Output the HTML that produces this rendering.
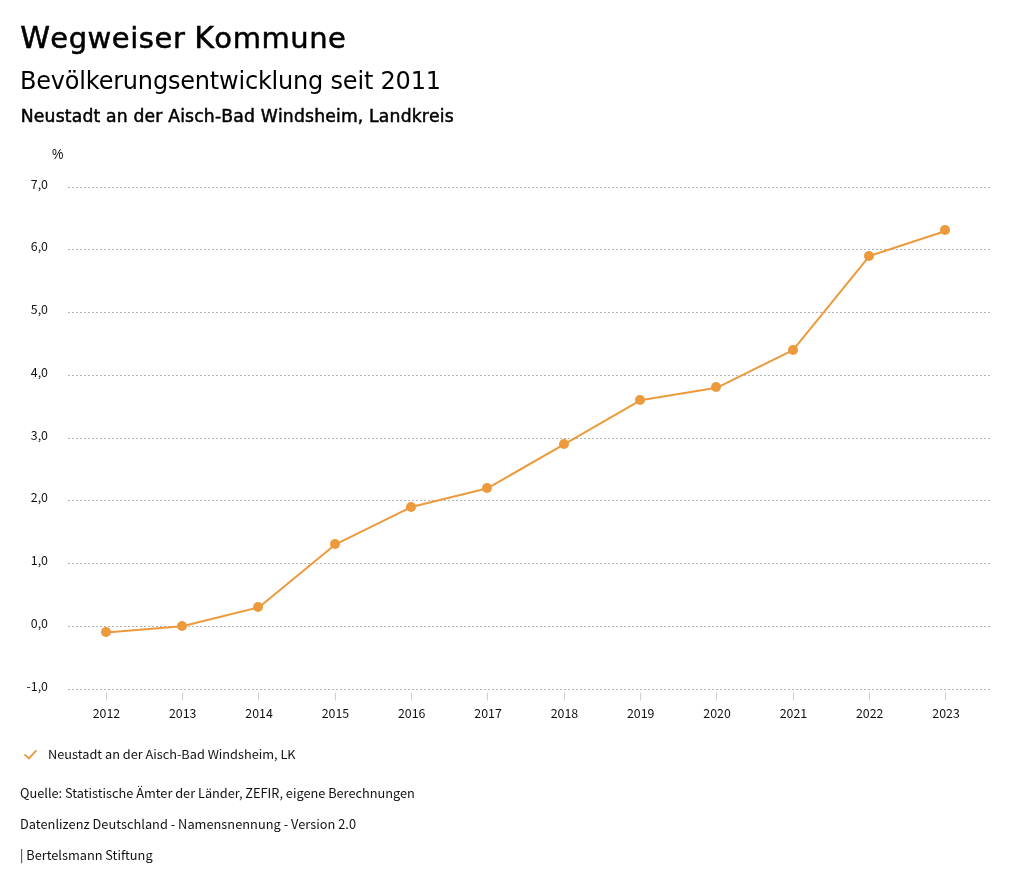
<!DOCTYPE html>
<html lang="de">
<head>
<meta charset="utf-8">
<title>Wegweiser Kommune</title>
<style>
html,body{margin:0;padding:0;background:#fff;}
body{width:1024px;height:888px;position:relative;overflow:hidden;font-family:"Liberation Sans","Noto Sans CJK JP",sans-serif;color:#000;}
.t{position:absolute;white-space:nowrap;line-height:1;margin:0;font-weight:normal;}
.dj{font-family:"DejaVu Sans","Liberation Sans",sans-serif;}
.ss{font-family:"Noto Sans CJK JP","Noto Sans CJK SC","Liberation Sans",sans-serif;}
#h1{left:20.2px;top:22.7px;font-size:29px;letter-spacing:0.55px;word-spacing:-0.8px;-webkit-text-stroke:0.5px #000;font-kerning:none;}
#h1 span{font-size:30.2px;letter-spacing:0.2px;}
#h2{left:20px;top:69.3px;font-size:24px;letter-spacing:-0.2px;}
#h3{left:20.8px;top:108.4px;font-size:17.2px;letter-spacing:0.178px;-webkit-text-stroke:0.5px #000;font-kerning:none;}
svg{position:absolute;left:0;top:0;}
svg text{font-family:"Noto Sans CJK JP","Noto Sans CJK SC","Liberation Sans",sans-serif;font-size:12.4px;fill:#111;}
.ft{font-size:12.75px;color:#111;}
</style>
</head>
<body>
<h1 class="t dj" id="h1"><span>W</span>egweiser <span>K</span>ommune</h1>
<h2 class="t dj" id="h2">Bevölkerungsentwicklung seit 2011</h2>
<h3 class="t dj" id="h3">Neustadt an der Aisch-Bad Windsheim, Landkreis</h3>
<svg width="1024" height="888" viewBox="0 0 1024 888">

<g stroke="#b4b4b4" stroke-width="1" stroke-dasharray="2,2" fill="none">
<line x1="68" y1="689.5" x2="991" y2="689.5"/>
<line x1="68" y1="626.5" x2="991" y2="626.5"/>
<line x1="68" y1="563.5" x2="991" y2="563.5"/>
<line x1="68" y1="500.5" x2="991" y2="500.5"/>
<line x1="68" y1="438.5" x2="991" y2="438.5"/>
<line x1="68" y1="375.5" x2="991" y2="375.5"/>
<line x1="68" y1="312.5" x2="991" y2="312.5"/>
<line x1="68" y1="249.5" x2="991" y2="249.5"/>
<line x1="68" y1="187.5" x2="991" y2="187.5"/>
</g>
<g stroke="#cfcfcf" stroke-width="1" fill="none">
<line x1="106.5" y1="692.5" x2="106.5" y2="700.5"/>
<line x1="182.5" y1="692.5" x2="182.5" y2="700.5"/>
<line x1="258.5" y1="692.5" x2="258.5" y2="700.5"/>
<line x1="335.5" y1="692.5" x2="335.5" y2="700.5"/>
<line x1="411.5" y1="692.5" x2="411.5" y2="700.5"/>
<line x1="487.5" y1="692.5" x2="487.5" y2="700.5"/>
<line x1="564.5" y1="692.5" x2="564.5" y2="700.5"/>
<line x1="640.5" y1="692.5" x2="640.5" y2="700.5"/>
<line x1="716.5" y1="692.5" x2="716.5" y2="700.5"/>
<line x1="793.5" y1="692.5" x2="793.5" y2="700.5"/>
<line x1="869.5" y1="692.5" x2="869.5" y2="700.5"/>
<line x1="945.5" y1="692.5" x2="945.5" y2="700.5"/>
</g>
<g text-anchor="end">
<text x="48" y="691.1">-1,0</text>
<text x="48" y="628.1">0,0</text>
<text x="48" y="565.1">1,0</text>
<text x="48" y="502.1">2,0</text>
<text x="48" y="440.1">3,0</text>
<text x="48" y="377.1">4,0</text>
<text x="48" y="314.1">5,0</text>
<text x="48" y="251.1">6,0</text>
<text x="48" y="189.1">7,0</text>
</g>
<text x="52" y="0" transform="translate(0,159) scale(1,1.09)" style="font-family:'Liberation Sans',sans-serif;font-size:12.8px">%</text>
<g text-anchor="middle" style="font-size:12.7px">
<text x="106.4" y="718">2012</text>
<text x="182.7" y="718">2013</text>
<text x="259.1" y="718">2014</text>
<text x="335.4" y="718">2015</text>
<text x="411.7" y="718">2016</text>
<text x="488.1" y="718">2017</text>
<text x="564.4" y="718">2018</text>
<text x="640.7" y="718">2019</text>
<text x="717.1" y="718">2020</text>
<text x="793.4" y="718">2021</text>
<text x="869.7" y="718">2022</text>
<text x="946.1" y="718">2023</text>
</g>
<polyline points="106.00,632.52 182.33,626.25 258.67,607.42 335.00,544.67 411.33,507.02 487.67,488.20 564.00,444.27 640.33,400.35 716.67,387.80 793.00,350.15 869.33,256.02 945.67,230.93" fill="none" stroke="#ec9a3c" stroke-width="2" stroke-linejoin="round" stroke-linecap="round"/>
<g fill="#ec9a3c">
<circle cx="106" cy="632" r="5"/>
<circle cx="182" cy="626" r="5"/>
<circle cx="258" cy="607" r="5"/>
<circle cx="335" cy="544" r="5"/>
<circle cx="411" cy="507" r="5"/>
<circle cx="487" cy="488" r="5"/>
<circle cx="564" cy="444" r="5"/>
<circle cx="640" cy="400" r="5"/>
<circle cx="716" cy="387" r="5"/>
<circle cx="793" cy="350" r="5"/>
<circle cx="869" cy="256" r="5"/>
<circle cx="945" cy="230" r="5"/>
</g>
<path d="M24.5 754.4 L28.9 758.4 L36.4 750.4" fill="none" stroke="#ec9a3c" stroke-width="1.75" stroke-linecap="butt" stroke-linejoin="miter"/>
<text x="48.1" y="0" transform="translate(0,759) scale(1,0.925)" style="font-size:12.75px">Neustadt an der Aisch-Bad Windsheim, LK</text>
</svg>
<div class="t ss ft" style="left:20px;top:787px;">Quelle: Statistische Ämter der Länder, ZEFIR, eigene Berechnungen</div>
<div class="t ss ft" style="left:20px;top:818px;letter-spacing:0.04px;">Datenlizenz Deutschland - Namensnennung - Version 2.0</div>
<div class="t ss ft" style="left:20px;top:849px;">| Bertelsmann Stiftung</div>
</body>
</html>
